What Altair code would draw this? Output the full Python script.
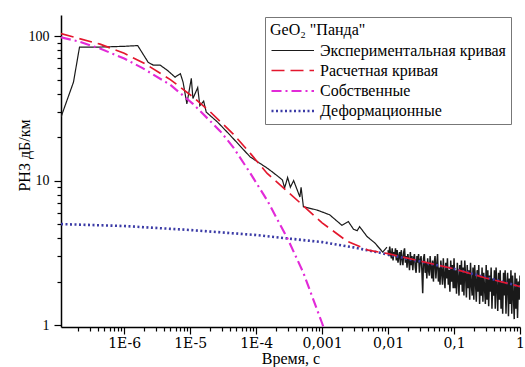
import altair as alt
import pandas as pd

FONT = "Liberation Serif"
FONT_B = "DejaVu Serif"
FONT_C = "Times New Roman"

SERIES = ["Экспериментальная кривая", "Расчетная кривая", "Собственные", "Деформационные"]
COLORS = ["#1a1a1a", "#e3172d", "#e22ad8", "#3b3ba6"]
DASHES = [[1, 0], [13, 6], [10, 4, 2, 4], [2, 2.5]]
WIDTHS = [1.2, 2.6, 2.6, 1.4]
LEGEND_TITLE = "GeO\u2082 \"Панда\""

# Experimental curve (smooth part)
EXP_T = [1.1e-7, 1.7e-7, 2.1e-7, 4.3e-7, 1.0e-6, 1.6e-6, 2.3e-6, 2.75e-6, 3.5e-6, 4.5e-6,
         5.9e-6, 7.1e-6, 7.8e-6, 8.9e-6, 1.04e-5, 1.1e-5, 1.3e-5, 1.4e-5, 1.6e-5, 1.75e-5,
         2.6e-5, 4.0e-5, 8.1e-5, 1.47e-4, 1.75e-4, 2.2e-4, 2.5e-4, 2.7e-4, 3.0e-4, 3.3e-4,
         3.7e-4, 4.2e-4, 4.6e-4, 4.8e-4, 5.2e-4, 8.4e-4, 1.3e-3, 2.0e-3, 2.5e-3, 3.0e-3,
         3.4e-3, 3.7e-3, 4.8e-3, 6.3e-3, 8.3e-3, 9.6e-3]
EXP_V = [27.5, 48, 84, 84, 85, 86, 66, 63, 63, 58,
         52, 55, 48, 34, 51, 37, 44, 33, 35.5, 29.8,
         25.4, 20.7, 14.6, 12.2, 11.5, 10.6, 10.1, 8.9, 10.5, 9.0,
         10.0, 8.6, 7.7, 9.0, 6.6, 6.25, 5.8, 4.9, 5.2, 4.6,
         4.5, 4.8, 4.1, 3.7, 3.2, 3.46]

# Experimental curve (noisy tail, 0.01 .. 1 s): log10 of time and value
NOISE_LOGT = [
    -2.0000, -1.9875, -1.9750, -1.9625, -1.9500, -1.9375, -1.9250, -1.9125, -1.9000, -1.8875,
    -1.8750, -1.8625, -1.8500, -1.8375, -1.8250, -1.8125, -1.8000, -1.7875, -1.7750, -1.7625,
    -1.7500, -1.7375, -1.7250, -1.7125, -1.7000, -1.6875, -1.6750, -1.6625, -1.6500, -1.6375,
    -1.6250, -1.6125, -1.6000, -1.5875, -1.5750, -1.5625, -1.5500, -1.5375, -1.5250, -1.5125,
    -1.5000, -1.4875, -1.4750, -1.4625, -1.4500, -1.4375, -1.4250, -1.4125, -1.4000, -1.3875,
    -1.3750, -1.3625, -1.3500, -1.3375, -1.3250, -1.3125, -1.3000, -1.2875, -1.2750, -1.2625,
    -1.2500, -1.2375, -1.2250, -1.2125, -1.2000, -1.1875, -1.1750, -1.1625, -1.1500, -1.1375,
    -1.1250, -1.1125, -1.1000, -1.0875, -1.0750, -1.0625, -1.0500, -1.0375, -1.0250, -1.0125,
    -1.0000, -0.9875, -0.9750, -0.9625, -0.9500, -0.9375, -0.9250, -0.9125, -0.9000, -0.8875,
    -0.8750, -0.8625, -0.8500, -0.8375, -0.8250, -0.8125, -0.8000, -0.7875, -0.7750, -0.7625,
    -0.7500, -0.7375, -0.7250, -0.7125, -0.7000, -0.6875, -0.6750, -0.6625, -0.6500, -0.6375,
    -0.6250, -0.6125, -0.6000, -0.5875, -0.5750, -0.5625, -0.5500, -0.5375, -0.5250, -0.5125,
    -0.5000, -0.4875, -0.4750, -0.4625, -0.4500, -0.4375, -0.4250, -0.4125, -0.4000, -0.3875,
    -0.3750, -0.3625, -0.3500, -0.3375, -0.3250, -0.3125, -0.3000, -0.2875, -0.2750, -0.2625,
    -0.2500, -0.2375, -0.2250, -0.2125, -0.2000, -0.1875, -0.1750, -0.1625, -0.1500, -0.1375,
    -0.1250, -0.1125, -0.1000, -0.0875, -0.0750, -0.0625, -0.0500, -0.0375, -0.0250, -0.0125,
    0.0000]
NOISE_V = [
    3.3, 3.0, 3.5, 3.1, 2.9, 3.4, 2.8, 3.2, 3.0, 3.4,
    2.8, 3.3, 2.7, 3.0, 3.2, 2.6, 3.3, 2.9, 2.6, 3.2,
    3.4, 2.7, 3.0, 2.5, 3.1, 2.8, 2.4, 3.2, 2.6, 3.0,
    2.4, 2.9, 3.1, 2.5, 2.3, 3.0, 2.7, 3.1, 2.3, 2.8,
    3.0, 2.4, 1.66, 2.9, 3.1, 2.3, 2.7, 2.1, 2.9, 2.4,
    2.2, 3.0, 2.5, 2.1, 2.8, 2.0, 2.7, 3.0, 2.1, 2.6,
    3.1, 2.0, 2.5, 1.9, 2.8, 2.3, 1.9, 2.9, 2.2, 1.8,
    2.7, 2.1, 2.9, 1.9, 2.4, 1.7, 2.8, 2.0, 2.6, 1.8,
    2.9, 1.8, 2.4, 1.65, 2.7, 2.1, 1.6, 2.6, 1.9, 2.8,
    1.7, 2.5, 1.6, 2.8, 2.2, 1.55, 2.6, 1.8, 2.4, 1.5,
    2.7, 1.9, 1.6, 2.5, 1.5, 2.6, 2.0, 1.45, 2.4, 1.7,
    2.6, 1.4, 2.2, 1.6, 2.5, 1.45, 2.3, 1.8, 1.4, 2.6,
    1.5, 2.4, 1.35, 2.2, 1.7, 2.5, 1.3, 2.1, 1.6, 2.4,
    1.3, 2.5, 1.8, 1.25, 2.3, 1.5, 2.4, 1.3, 2.0, 1.2,
    2.3, 1.6, 2.4, 1.2, 1.9, 2.3, 1.15, 2.1, 1.4, 2.4,
    1.2, 2.2, 1.6, 1.1, 2.3, 1.3, 2.1, 1.12, 2.0, 1.5,
    2.2]

# Fitted curve
FIT_T = [1.1e-7, 4.3e-7, 1e-6, 2e-6, 5e-6, 1.1e-5, 2e-5, 4.5e-5, 8.1e-5, 1.47e-4,
         3e-4, 5e-4, 1e-3, 2.4e-3, 5e-3, 1e-2, 3e-2, 0.1, 0.3, 1.0]
FIT_V = [104, 88, 76, 65, 50, 38, 30, 21, 15.5, 11.2,
         8.4, 6.8, 5.1, 3.8, 3.3, 3.12, 2.78, 2.45, 2.12, 1.85]

# Intrinsic component
OWN_T = [1.1e-7, 2e-7, 4.3e-7, 1e-6, 1.9e-6, 5e-6, 1.1e-5, 2.85e-5, 4.5e-5, 8.1e-5,
         1.47e-4, 3.05e-4, 5.2e-4, 1.0e-3, 1.06e-3]
OWN_V = [98, 92, 82, 70, 60, 46, 34, 22, 17, 11.3,
         7.3, 3.9, 2.3, 1.03, 0.95]

# Deformation component
DEF_T = [1.1e-7, 1e-6, 1e-5, 1e-4, 1e-3, 3e-3, 1e-2, 0.1, 1.0]
DEF_V = [5.0, 4.85, 4.55, 4.2, 3.75, 3.45, 3.08, 2.45, 1.85]

X_MAJOR = [1e-6, 1e-5, 1e-4, 1e-3, 1e-2, 1e-1, 1.0]
X_LABELS = ["1E-6", "1E-5", "1E-4", "0,001", "0,01", "0,1", "1"]
Y_MAJOR = [1, 10, 100]
Y_LABELS = ["1", "10", "100"]

rows = []
for t, v in zip(EXP_T, EXP_V):
    rows.append({"series": SERIES[0], "part": "main", "t": t, "v": v})
for lt, v in zip(NOISE_LOGT, NOISE_V):
    rows.append({"series": SERIES[0], "part": "noise", "t": 10 ** lt, "v": v})
for t, v in zip(FIT_T, FIT_V):
    rows.append({"series": SERIES[1], "part": "main", "t": t, "v": v})
for t, v in zip(OWN_T, OWN_V):
    rows.append({"series": SERIES[2], "part": "main", "t": t, "v": v})
for t, v in zip(DEF_T, DEF_V):
    rows.append({"series": SERIES[3], "part": "main", "t": t, "v": v})
df = pd.DataFrame(rows)

X_MIN, X_MAX = 1.1e-7, 1.0
Y_MIN, Y_MAX = 0.97, 140

x_ticks = []
for m in [1e-7] + X_MAJOR[:-1]:
    for k in range(1, 10):
        val = k * m
        if X_MIN <= val <= X_MAX:
            x_ticks.append(val)
x_ticks.append(1.0)
y_ticks = []
for m in Y_MAJOR[:-1]:
    for k in range(1, 10):
        y_ticks.append(k * m)
y_ticks.append(100)

LOG = "(log(datum.value)/LN10)"
IS_MAJOR = f"abs({LOG} - round({LOG})) < 0.01"


def label_expr(majors, labels):
    expr = "''"
    for m, lab in reversed(list(zip(majors, labels))):
        expr = f"abs(datum.value - {m!r}) < {m!r} * 0.01 ? '{lab}' : ({expr})"
    return expr


tick_size = {"condition": {"test": IS_MAJOR, "value": 7}, "value": 4}

x_enc = alt.X("t:Q",
              scale=alt.Scale(type="log", domain=[X_MIN, X_MAX], nice=False),
              axis=alt.Axis(title="Время, с", values=x_ticks,
                            labelExpr=label_expr(X_MAJOR, X_LABELS),
                            labelOverlap=False, labelFlush=False,
                            labelFont=FONT_B, titleFont=FONT_C,
                            tickSize=tick_size, titleY=31, titleBaseline="middle"))
y_enc = alt.Y("v:Q",
              scale=alt.Scale(type="log", domain=[Y_MIN, Y_MAX], nice=False),
              axis=alt.Axis(title="РНЗ дБ/км", values=y_ticks,
                            labelExpr=label_expr(Y_MAJOR, Y_LABELS),
                            labelOverlap=False, labelFlush=False, labelPadding=5,
                            labelFont=FONT, titleFont=FONT,
                            tickSize=tick_size, titleX=-37, titleY=140,
                            titleAlign="center", titleBaseline="middle"))

legend = alt.Legend(title=LEGEND_TITLE, orient="none", legendX=204, legendY=2,
                    symbolType="M-1,0L4,0", symbolSize=289, labelOffset=30, labelLimit=0,
                    titleFont=FONT, labelFont=FONT)

base = alt.Chart(df).mark_line(clip=True).encode(
    x=x_enc,
    y=y_enc,
    color=alt.Color("series:N", scale=alt.Scale(domain=SERIES, range=COLORS), legend=legend,
                    sort=SERIES),
    strokeDash=alt.StrokeDash("series:N", scale=alt.Scale(domain=SERIES, range=DASHES),
                              legend=legend, sort=SERIES),
    strokeWidth=alt.StrokeWidth("series:N", scale=alt.Scale(domain=SERIES, range=WIDTHS),
                                legend=legend, sort=SERIES),
)

exp_main = base.transform_filter((alt.datum.series == SERIES[0]) & (alt.datum.part == "main"))
exp_noise = base.transform_filter(alt.datum.part == "noise").encode(strokeWidth=alt.value(1.5))
others = [base.transform_filter(alt.datum.series == s) for s in [SERIES[3], SERIES[2], SERIES[1]]]

chart = alt.layer(exp_main, exp_noise, *others).properties(
    width=459, height=312,
    padding={"left": 61, "top": 15, "right": 5, "bottom": 40},
    autosize="none",
).configure_axis(
    labelFontSize=14, titleFontSize=16,
    labelColor="black", titleColor="black", domainColor="black", tickColor="black",
    domainWidth=1.5, tickWidth=1.2, grid=False, titleFontWeight="normal",
).configure_view(
    stroke=None
).configure_legend(
    titleFontSize=16, labelFontSize=16,
    titleFontWeight="normal", titleColor="black", labelColor="black",
    strokeColor="#777777", fillColor="white", padding=5, rowPadding=2,
    titlePadding=3, symbolStrokeWidth=1.5,
)

chart.save("out.html", embed_options={"renderer": "svg", "actions": False})
